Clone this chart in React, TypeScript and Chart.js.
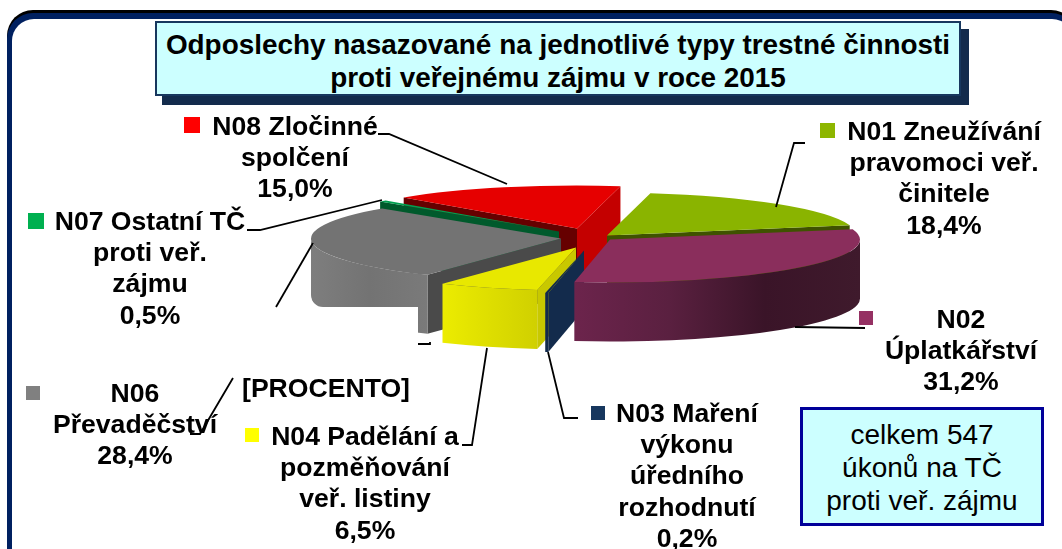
import React, { useEffect, useRef } from "react";
import { Chart, registerables } from "chart.js";

Chart.register(...registerables);

// ---- data ----
const categories = ["N01", "N02", "N03", "N04", "N05", "N06", "N07", "N08"];
const percentValues = [18.4, 31.2, 0.2, 6.5, 0, 28.4, 0.5, 15.0];
const labelNames = [
  ["N01 Zneužívání", "pravomoci veř.", "činitele"],
  ["N02", "Úplatkářství"],
  ["N03 Maření", "výkonu", "úředního", "rozhodnutí"],
  ["N04 Padělání a", "pozměňování", "veř. listiny"],
  ["[PROCENTO]"],
  ["N06", "Převaděčství"],
  ["N07 Ostatní TČ", "proti veř.", "zájmu"],
  ["N08 Zločinné", "spolčení"],
];
const titleLines = [
  "Odposlechy nasazované na jednotlivé typy trestné činnosti",
  "proti veřejnému zájmu v roce 2015",
];
const noteLines = ["celkem 547", "úkonů na TČ", "proti veř. zájmu"];

// ---- styles ----
const topColors = ["#8ab400", "#8a2e5c", "#132b4c", "#e8e800", "#808080", "#737373", "#00a050", "#e60000"];
const keyColors = ["#8db600", "#953163", "#17375e", "#ffff00", "#808080", "#808080", "#00b050", "#ff0000"];
const radialWall = ["#3f5200", "#3f1a2c", "#132b4c", "#c8c800", "#555555", "#4a4a4a", "#005a2c", "#660000"];
const endWall = ["#3f5200", "#3f1a2c", "#132b4c", "#c8c800", "#555555", "#4a4a4a", "#005a2c", "#c40000"];
const outerStops: string[][] = [
  ["#3f5200", "#3f5200"],
  ["#6c244c", "#5a2040", "#3a1428", "#3f1a2c"],
  ["#132b4c", "#132b4c"],
  ["#ecec00", "#d0d000"],
  ["#808080", "#808080"],
  ["#7e7e7e", "#737373", "#7a7a7a"],
  ["#005a2c", "#005a2c"],
  ["#c40000", "#c40000"],
];

// ---- layout ----
const SQUASH = 0.172;
const DEPTH = 59;
const RADIUS = 250;
const explode = [[22, -3], [25, 1], [-1, 12], [-9, 9], [-9, 9], [-24, 0], [-26, -7], [-8, -10]];
const drawOrder = [7, 0, 6, 5, 3, 2, 1];
const labelPos = [
  { cx: 944, base: 140, key: [820, 123, 15] },
  { cx: 961, base: 328, key: [859, 311, 14] },
  { cx: 687, base: 422, key: [591, 406, 14] },
  { cx: 365, base: 445, key: [245, 428, 14] },
  { cx: 326, base: 397, key: null },
  { cx: 135, base: 402, key: [26, 386, 14] },
  { cx: 150, base: 230, key: [28, 213, 16] },
  { cx: 295, base: 135, key: [184, 117, 16] },
];
const leaders = [
  [[805, 143], [794, 143], [776, 207]],
  [[795, 327], [865, 328]],
  [[548, 352], [564, 418], [578, 418]],
  [[487, 348], [472, 445], [462, 445]],
  [[418, 344], [430, 344], [430, 342]],
  [[313, 243], [276, 307]],
  [[233, 378], [200, 434], [190, 434]],
  [[247, 230], [260, 230], [382, 200]],
  [[378, 134], [389, 134], [507, 184]],
];

const FONT = "'Liberation Sans', Arial, sans-serif";
const TAU = Math.PI * 2;
const norm = (a: number) => ((a % TAU) + TAU) % TAU;

const pie3d = {
  id: "pie3d",
  beforeDatasetsDraw(chart: any) {
    const ctx: CanvasRenderingContext2D = chart.ctx;
    const arcs = chart.getDatasetMeta(0).data;
    const ry = RADIUS * SQUASH;
    const quad = (ax: number, ay: number, angle: number, color: string) => {
      const ox = ax + Math.cos(angle) * RADIUS;
      const oy = ay + Math.sin(angle) * ry;
      ctx.fillStyle = color;
      ctx.beginPath();
      ctx.moveTo(ax, ay);
      ctx.lineTo(ox, oy);
      ctx.lineTo(ox, oy + DEPTH);
      ctx.lineTo(ax, ay + DEPTH);
      ctx.closePath();
      ctx.fill();
    };
    for (const i of drawOrder) {
      const el = arcs[i];
      const { x, y, startAngle, endAngle } = el.getProps(["x", "y", "startAngle", "endAngle"]);
      const ax = x + explode[i][0];
      const ay = y + explode[i][1];
      const s = norm(startAngle);
      let e = norm(endAngle);
      // radial side walls that face the viewer
      if (s > Math.PI / 2 && s < (Math.PI * 3) / 2) quad(ax, ay, startAngle, radialWall[i]);
      if (e > (Math.PI * 3) / 2 || e < Math.PI / 2) quad(ax, ay, endAngle, endWall[i]);
      // outer curved wall, front half only
      if (e < s) e += TAU;
      for (const [lo, hi] of [[0, Math.PI], [TAU, TAU + Math.PI]]) {
        const a1 = Math.max(s, lo);
        const a2 = Math.min(e, hi);
        if (a2 <= a1) continue;
        ctx.save();
        if (i === 5) {
          ctx.beginPath();
          ctx.roundRect(ax - RADIUS, 100, 400, 207, [0, 0, 0, 12]);
          ctx.rect(418, 100, 100, 300);
          ctx.clip();
        }
        const xa = ax + Math.cos(a2) * RADIUS;
        const xb = ax + Math.cos(a1) * RADIUS;
        const g = ctx.createLinearGradient(Math.min(xa, xb), 0, Math.max(xa, xb), 0);
        outerStops[i].forEach((c, k, all) => g.addColorStop(k / (all.length - 1), c));
        ctx.fillStyle = g;
        ctx.beginPath();
        ctx.ellipse(ax, ay, RADIUS, ry, 0, a1, a2);
        ctx.ellipse(ax, ay + DEPTH, RADIUS, ry, 0, a2, a1, true);
        ctx.closePath();
        ctx.fill();
        ctx.restore();
      }
      // top face: the library's own arc, squashed
      ctx.save();
      ctx.translate(ax, ay);
      ctx.scale(1, SQUASH);
      ctx.translate(-x, -y);
      el.draw(ctx);
      ctx.restore();
    }
    return false;
  },
  afterDraw(chart: any) {
    const ctx: CanvasRenderingContext2D = chart.ctx;
    ctx.save();
    ctx.strokeStyle = "#000";
    ctx.lineWidth = 1.8;
    for (const l of leaders) {
      ctx.beginPath();
      l.forEach(([px, py], k) => (k ? ctx.lineTo(px, py) : ctx.moveTo(px, py)));
      ctx.stroke();
    }
    ctx.font = `bold 26.6px ${FONT}`;
    ctx.textAlign = "center";
    ctx.textBaseline = "alphabetic";
    categories.forEach((_, i) => {
      const p = labelPos[i];
      const lines = [...labelNames[i]];
      if (i !== 4) lines.push(percentValues[i].toFixed(1).replace(".", ",") + "%");
      ctx.fillStyle = "#000";
      lines.forEach((t, k) => ctx.fillText(t, p.cx, p.base + k * 31.2));
      if (p.key) {
        ctx.fillStyle = keyColors[i];
        ctx.fillRect(p.key[0], p.key[1], p.key[2], p.key[2]);
      }
    });
    ctx.restore();
  },
};

export default function App() {
  const ref = useRef<HTMLCanvasElement>(null);
  useEffect(() => {
    document.body.style.margin = "0";
    const chart = new Chart(ref.current!, {
      type: "pie",
      data: {
        labels: categories,
        datasets: [{ data: percentValues, backgroundColor: topColors, borderWidth: 0 }],
      },
      options: {
        animation: false,
        responsive: false,
        events: [],
        rotation: 10,
        radius: RADIUS,
        layout: { padding: { left: 108, bottom: 72 } },
        plugins: { legend: { display: false }, tooltip: { enabled: false } },
      },
      plugins: [pie3d],
    } as any);
    return () => chart.destroy();
  }, []);

  return (
    <div style={{ position: "relative", width: 1062, height: 549, overflow: "hidden", background: "#fff", fontFamily: FONT }}>
      <div style={{ position: "absolute", left: 7, top: 10, width: 1070, height: 570, borderRadius: 26, background: "#000" }} />
      <div style={{ position: "absolute", left: 7, top: 13, width: 1070, height: 570, borderRadius: 26, background: "#002060" }} />
      <div style={{ position: "absolute", left: 12, top: 19, width: 1062, height: 560, borderRadius: 22, background: "#fff" }} />
      <canvas ref={ref} width={1062} height={549} style={{ position: "absolute", left: 0, top: 0, width: 1062, height: 549 }} />
      <div style={{ position: "absolute", left: 162, top: 29, width: 807, height: 76, background: "#132b4c" }} />
      <div style={{ position: "absolute", left: 155, top: 21, width: 806, height: 75, boxSizing: "border-box", background: "#ccffff", border: "2.5px solid #17375e", textAlign: "center", fontWeight: "bold", fontSize: 27.9, lineHeight: "33px", color: "#000", paddingTop: 5, whiteSpace: "nowrap" }}>
        {titleLines.map((t) => <div key={t}>{t}</div>)}
      </div>
      <div style={{ position: "absolute", left: 800, top: 407, width: 244, height: 119, boxSizing: "border-box", background: "#ccffff", border: "3px solid #000099", textAlign: "center", fontSize: 28, lineHeight: "33px", color: "#000", paddingTop: 8, whiteSpace: "nowrap" }}>
        {noteLines.map((t) => <div key={t}>{t}</div>)}
      </div>
    </div>
  );
}
